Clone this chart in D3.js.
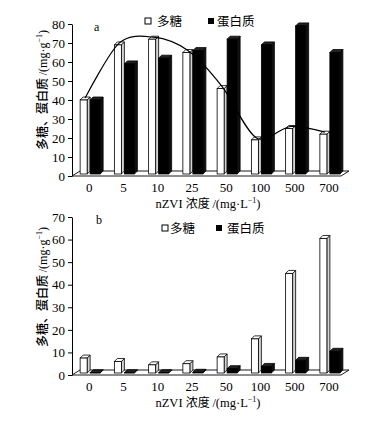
<!DOCTYPE html>
<html>
<head>
<meta charset="utf-8">
<script src="https://cdn.jsdelivr.net/npm/d3@7"></script>
<style>
  body { margin: 0; background: #fff; }
  svg { display: block; }
  .tick text, .cat { font-family: "Liberation Serif", "DejaVu Serif", serif; font-size: 13px; }
  .cjk { font-family: "Noto Sans CJK SC", sans-serif; }
</style>
</head>
<body>
<svg id="chart" width="382" height="423"></svg>
<script>
document.addEventListener("DOMContentLoaded", () => {
  "use strict";

  const categories = ["0", "5", "10", "25", "50", "100", "500", "700"];

  // panel a
  const polyA = [40, 69, 72, 65, 46, 19, 25, 22];
  const protA = [40, 59, 62, 66, 72, 69, 79, 65];
  const ticksA = [0, 10, 20, 30, 40, 50, 60, 70, 80];

  // panel b
  const polyB = [7.5, 6, 4.5, 5, 8, 16, 45, 60.5];
  const protB = [1, 1, 1, 1.2, 2.8, 3.8, 6.5, 10.5];
  const ticksB = [0, 10, 20, 30, 40, 50, 60, 70];

  const svg = d3.select("#chart");
  const DX = 3, DY = -3;

  function bar3d(g, x0, w, yTop, base, front, side, top) {
    const b = g.append("g");
    b.append("polygon")
      .attr("points", [[x0 + w, base], [x0 + w + DX, base + DY], [x0 + w + DX, yTop + DY], [x0 + w, yTop]].join(" "))
      .attr("fill", side).attr("stroke", "#000").attr("stroke-width", 0.8);
    b.append("polygon")
      .attr("points", [[x0, yTop], [x0 + DX, yTop + DY], [x0 + w + DX, yTop + DY], [x0 + w, yTop]].join(" "))
      .attr("fill", top).attr("stroke", "#000").attr("stroke-width", 0.8);
    b.append("rect")
      .attr("x", x0).attr("y", yTop).attr("width", w).attr("height", Math.max(0, base - yTop))
      .attr("fill", front).attr("stroke", "#000").attr("stroke-width", 0.8);
  }

  function drawPanel(o) {
    const x = d3.scaleBand().domain(categories).range([72, 346]);
    const y = d3.scaleLinear().domain([0, o.max]).range([o.bottom, o.top]);
    const g = svg.append("g");

    // y axis
    g.append("g").attr("transform", "translate(72,0)")
      .call(d3.axisLeft(y).tickValues(o.ticks).tickSize(4).tickPadding(3).tickSizeOuter(0))
      .call(a => a.select(".domain").attr("stroke", "#000"))
      .call(a => a.selectAll(".tick text").attr("fill", "#000"));

    // floor
    const f = y(0);
    g.append("polygon")
      .attr("points", [[72, f], [80, f - 5], [349, f - 5], [341, f]].join(" "))
      .attr("fill", "#fff").attr("stroke", "#000").attr("stroke-width", 0.9);

    const base = f - 2;
    categories.forEach((c, i) => {
      const cx = x(c) + x.bandwidth() / 2;
      bar3d(g, cx - 9, 7, y(o.poly[i]), base, "#fff", "#d4d4d4", "#fff");
      bar3d(g, cx + 1, 10, y(o.prot[i]), base, "#000", "#111", "#222");
    });

    // category labels
    g.selectAll("text.cat").data(categories).join("text")
      .attr("class", "cat")
      .attr("x", d => x(d) + x.bandwidth() / 2)
      .attr("y", o.bottom + 16)
      .attr("text-anchor", "middle")
      .text(d => d);

    // x title
    const xt = g.append("text")
      .attr("x", 208).attr("y", o.bottom + 32)
      .attr("text-anchor", "middle")
      .style("font-size", "12px");
    xt.append("tspan").attr("class", "cat").style("font-size", "12.5px").text("nZVI ");
    xt.append("tspan").attr("class", "cjk").style("font-size", "12px").text("浓度 ");
    xt.append("tspan").attr("class", "cat").style("font-size", "12.5px").text("/(mg·L");
    xt.append("tspan").attr("class", "cat").style("font-size", "8px").attr("dy", -5).text("−1");
    xt.append("tspan").attr("class", "cat").style("font-size", "12.5px").attr("dy", 5).text(")");

    // y title
    const yt = g.append("text")
      .attr("transform", `translate(47,${o.titleY}) rotate(-90)`)
      .attr("text-anchor", "middle")
      .style("font-size", "12px");
    yt.append("tspan").attr("class", "cjk").style("font-weight", "500").text("多糖、蛋白质 ");
    yt.append("tspan").attr("class", "cat").style("font-size", "12px").text("/(mg·g");
    yt.append("tspan").attr("class", "cat").style("font-size", "8px").attr("dy", -5).text("−1");
    yt.append("tspan").attr("class", "cat").style("font-size", "12px").attr("dy", 5).text(")");

    // panel letter
    g.append("text").attr("class", "cat")
      .attr("x", o.letterX).attr("y", o.top + 7)
      .style("font-size", "12px")
      .text(o.letter);

    // legend
    const L = o.legend;
    g.append("rect").attr("x", L.x1).attr("y", L.y - 4).attr("width", 6).attr("height", 6)
      .attr("fill", "#fff").attr("stroke", "#000").attr("stroke-width", 1);
    g.append("text").attr("class", "cjk").attr("x", L.t1).attr("y", L.y + 4)
      .style("font-size", "12.5px").text("多糖");
    g.append("rect").attr("x", L.x2).attr("y", L.y - 4).attr("width", 6).attr("height", 6)
      .attr("fill", "#000");
    g.append("text").attr("class", "cjk").attr("x", L.t2).attr("y", L.y + 4)
      .style("font-size", "12.5px").text("蛋白质");

    // trend curve
    if (o.curve) {
      const line = d3.line()
        .x(d => x(d[0]) + x.bandwidth() / 2 - 4)
        .y(d => y(d[1]) - 2)
        .curve(d3.curveCardinal.tension(0.1));
      g.append("path")
        .datum(categories.map((c, i) => [c, o.poly[i]]))
        .attr("d", line)
        .attr("fill", "none")
        .attr("stroke", "#000")
        .attr("stroke-width", 1.2);
    }
  }

  drawPanel({
    poly: polyA, prot: protA, ticks: ticksA, max: 80,
    top: 24, bottom: 176, titleY: 90, letter: "a", letterX: 94, curve: true,
    legend: { x1: 145, t1: 157, x2: 208, t2: 217, y: 22 }
  });

  drawPanel({
    poly: polyB, prot: protB, ticks: ticksB, max: 70,
    top: 217, bottom: 375, titleY: 287, letter: "b", letterX: 96, curve: false,
    legend: { x1: 162, t1: 170, x2: 216, t2: 227, y: 229 }
  });
});
</script>
</body>
</html>
